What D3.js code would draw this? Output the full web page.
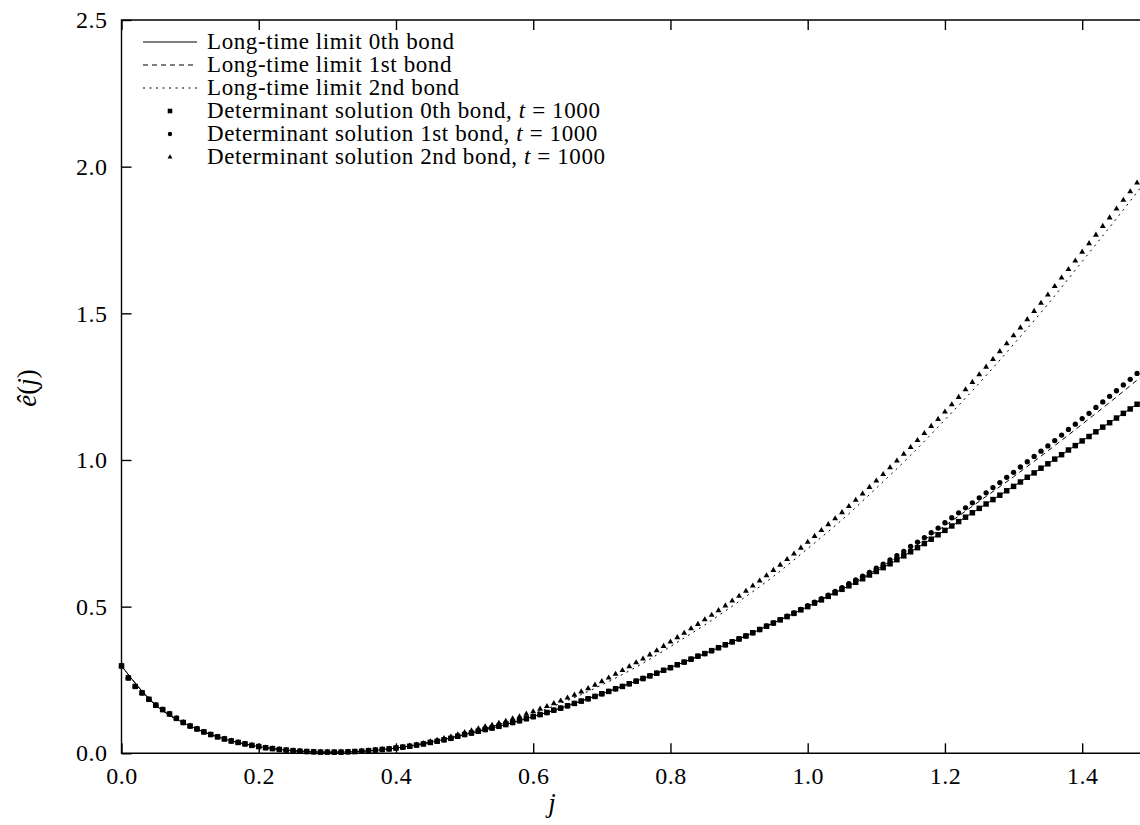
<!DOCTYPE html>
<html>
<head>
<meta charset="utf-8">
<script src="https://cdn.jsdelivr.net/npm/d3@7"></script>
<style>
  body { margin: 0; background: #fff; }
  svg text { font-family: "Liberation Serif", "DejaVu Serif", serif; fill: #000; }
</style>
</head>
<body>
<div id="chart"></div>
<script>
// j grid of the determinant solution (t = 1000)
const jPoints = [
  0.00,0.01,0.02,0.03,0.04,0.05,0.06,0.07,0.08,0.09,
  0.10,0.11,0.12,0.13,0.14,0.15,0.16,0.17,0.18,0.19,
  0.20,0.21,0.22,0.23,0.24,0.25,0.26,0.27,0.28,0.29,
  0.30,0.31,0.32,0.33,0.34,0.35,0.36,0.37,0.38,0.39,
  0.40,0.41,0.42,0.43,0.44,0.45,0.46,0.47,0.48,0.49,
  0.50,0.51,0.52,0.53,0.54,0.55,0.56,0.57,0.58,0.59,
  0.60,0.61,0.62,0.63,0.64,0.65,0.66,0.67,0.68,0.69,
  0.70,0.71,0.72,0.73,0.74,0.75,0.76,0.77,0.78,0.79,
  0.80,0.81,0.82,0.83,0.84,0.85,0.86,0.87,0.88,0.89,
  0.90,0.91,0.92,0.93,0.94,0.95,0.96,0.97,0.98,0.99,
  1.00,1.01,1.02,1.03,1.04,1.05,1.06,1.07,1.08,1.09,
  1.10,1.11,1.12,1.13,1.14,1.15,1.16,1.17,1.18,1.19,
  1.20,1.21,1.22,1.23,1.24,1.25,1.26,1.27,1.28,1.29,
  1.30,1.31,1.32,1.33,1.34,1.35,1.36,1.37,1.38,1.39,
  1.40,1.41,1.42,1.43,1.44,1.45,1.46,1.47,1.48
]

const det0 = [
  0.298,0.257,0.228,0.206,0.184,0.164,0.149,0.134,0.119,0.105,
  0.093,0.083,0.073,0.064,0.056,0.049,0.042,0.037,0.032,0.027,
  0.023,0.019,0.016,0.013,0.011,0.009,0.007,0.006,0.005,0.004,
  0.004,0.004,0.004,0.005,0.006,0.007,0.009,0.011,0.013,0.015,
  0.018,0.021,0.024,0.028,0.032,0.037,0.041,0.046,0.051,0.058,
  0.064,0.069,0.075,0.081,0.086,0.092,0.098,0.105,0.111,0.118,
  0.125,0.132,0.139,0.147,0.154,0.162,0.170,0.178,0.186,0.194,
  0.203,0.211,0.220,0.228,0.237,0.246,0.255,0.264,0.273,0.283,
  0.292,0.302,0.311,0.321,0.331,0.340,0.350,0.360,0.370,0.380,
  0.390,0.400,0.411,0.422,0.433,0.444,0.455,0.466,0.477,0.489,
  0.500,0.512,0.523,0.535,0.547,0.559,0.571,0.583,0.595,0.608,
  0.620,0.633,0.646,0.660,0.673,0.687,0.701,0.715,0.730,0.745,
  0.760,0.775,0.790,0.805,0.820,0.835,0.850,0.865,0.880,0.895,
  0.910,0.925,0.941,0.956,0.972,0.987,1.003,1.018,1.034,1.049,
  1.065,1.080,1.096,1.112,1.127,1.143,1.159,1.174,1.190
]

const det1 = [
  0.298,0.257,0.228,0.206,0.184,0.164,0.149,0.134,0.119,0.105,
  0.093,0.083,0.073,0.064,0.056,0.049,0.042,0.037,0.032,0.027,
  0.023,0.019,0.016,0.013,0.011,0.009,0.007,0.006,0.005,0.004,
  0.004,0.004,0.004,0.005,0.006,0.007,0.009,0.011,0.013,0.015,
  0.018,0.021,0.024,0.028,0.032,0.037,0.041,0.046,0.051,0.058,
  0.064,0.069,0.075,0.081,0.086,0.092,0.098,0.105,0.111,0.118,
  0.125,0.132,0.139,0.147,0.154,0.162,0.170,0.178,0.186,0.194,
  0.203,0.211,0.220,0.228,0.237,0.246,0.255,0.264,0.273,0.283,
  0.292,0.302,0.311,0.321,0.331,0.340,0.350,0.360,0.370,0.380,
  0.390,0.400,0.411,0.422,0.434,0.445,0.456,0.468,0.479,0.491,
  0.503,0.515,0.527,0.539,0.552,0.565,0.578,0.591,0.604,0.617,
  0.631,0.645,0.659,0.674,0.688,0.705,0.720,0.735,0.752,0.768,
  0.786,0.803,0.820,0.837,0.854,0.871,0.888,0.906,0.923,0.941,
  0.958,0.976,0.994,1.012,1.030,1.048,1.066,1.085,1.104,1.122,
  1.141,1.159,1.179,1.198,1.217,1.236,1.256,1.275,1.295
]

const det2 = [
  0.298,0.257,0.228,0.206,0.184,0.164,0.149,0.134,0.119,0.105,
  0.093,0.083,0.073,0.064,0.056,0.049,0.042,0.037,0.032,0.027,
  0.023,0.019,0.016,0.013,0.011,0.009,0.007,0.006,0.005,0.004,
  0.004,0.004,0.004,0.005,0.006,0.007,0.009,0.011,0.013,0.015,
  0.018,0.021,0.025,0.029,0.034,0.040,0.045,0.051,0.056,0.064,
  0.071,0.077,0.084,0.091,0.096,0.103,0.110,0.118,0.125,0.134,
  0.142,0.151,0.160,0.170,0.179,0.189,0.199,0.210,0.221,0.233,
  0.245,0.257,0.270,0.283,0.296,0.309,0.322,0.336,0.350,0.365,
  0.380,0.395,0.410,0.425,0.440,0.456,0.471,0.487,0.503,0.520,
  0.536,0.553,0.571,0.588,0.606,0.624,0.642,0.661,0.680,0.700,
  0.720,0.740,0.760,0.780,0.800,0.821,0.842,0.863,0.885,0.907,
  0.929,0.951,0.974,0.997,1.020,1.043,1.067,1.091,1.115,1.139,
  1.164,1.189,1.214,1.240,1.265,1.291,1.317,1.343,1.370,1.397,
  1.424,1.451,1.479,1.507,1.535,1.563,1.592,1.621,1.650,1.679,
  1.709,1.738,1.767,1.797,1.826,1.856,1.886,1.915,1.945
]

// long-time limit curves
const jLine = [0.00,0.05,0.10,0.15,0.20,0.25,0.30,0.35,0.40,0.45,0.50,0.55,0.60,0.65,0.70,0.75,
  0.80,0.85,0.90,0.95,1.00,1.05,1.10,1.15,1.20,1.25,1.30,1.35,1.40,1.45,1.50]
const lim0 = [0.298,0.164,0.093,0.049,0.023,0.009,0.004,0.007,0.018,0.037,0.064,0.092,0.125,0.162,0.203,0.246,
  0.292,0.340,0.390,0.444,0.500,0.559,0.620,0.687,0.760,0.835,0.910,0.987,1.065,1.143,1.222]
const lim1 = [0.298,0.164,0.093,0.049,0.023,0.009,0.004,0.007,0.018,0.037,0.064,0.092,0.125,0.162,0.203,0.246,
  0.292,0.340,0.390,0.444,0.501,0.562,0.626,0.697,0.776,0.859,0.943,1.031,1.122,1.215,1.311]
const lim2 = [0.298,0.164,0.093,0.049,0.023,0.009,0.004,0.007,0.018,0.038,0.067,0.098,0.135,0.180,0.233,0.294,
  0.364,0.438,0.518,0.603,0.698,0.796,0.904,1.016,1.137,1.262,1.394,1.531,1.677,1.823,1.974]

const xTicks = [0.0, 0.2, 0.4, 0.6, 0.8, 1.0, 1.2, 1.4]
const yTicks = [0.0, 0.5, 1.0, 1.5, 2.0, 2.5]

const legendLabels = [
  "Long-time limit 0th bond",
  "Long-time limit 1st bond",
  "Long-time limit 2nd bond",
  "Determinant solution 0th bond, ",
  "Determinant solution 1st bond, ",
  "Determinant solution 2nd bond, "
]

const width = 1140, height = 825
const plot = { left: 121.5, right: 1140.5, top: 20, bottom: 753.3 }

const svg = d3.select("#chart")
  .append("svg")
  .attr("width", width)
  .attr("height", height)

const x = d3.scaleLinear().domain([0, 1.485]).range([plot.left, plot.right])
const y = d3.scaleLinear().domain([0, 2.5]).range([plot.bottom, plot.top])

const fmt = d3.format(".1f")

// axes, ticks pointing inward
svg.append("g")
  .attr("transform", `translate(0,${plot.bottom})`)
  .call(d3.axisBottom(x).tickValues(xTicks).tickFormat(fmt).tickSizeInner(-10).tickSizeOuter(0).tickPadding(14))
svg.append("g")
  .attr("transform", `translate(0,${plot.top})`)
  .call(d3.axisTop(x).tickValues(xTicks).tickFormat("").tickSizeInner(-10).tickSizeOuter(0))
svg.append("g")
  .attr("transform", `translate(${plot.left},0)`)
  .call(d3.axisLeft(y).tickValues(yTicks).tickFormat(fmt).tickSizeInner(-10).tickSizeOuter(0).tickPadding(14))

svg.selectAll(".domain").remove()
svg.selectAll(".tick line").attr("stroke", "#000").attr("stroke-width", 1.4)
svg.selectAll(".tick text").style("font-size", "24px").style("letter-spacing", "0.5px").attr("font-family", null)

// frame (right side runs off the picture)
svg.append("path")
  .attr("d", `M${plot.right},${plot.top}H${plot.left}V${plot.bottom}H${plot.right}`)
  .attr("fill", "none")
  .attr("stroke", "#000")
  .attr("stroke-width", 1.4)

// axis labels
svg.append("text")
  .attr("x", 552).attr("y", 812)
  .attr("text-anchor", "middle")
  .style("font-size", "27px")
  .style("font-style", "italic")
  .text("j")

const yl = svg.append("text")
  .attr("transform", "translate(36,388) rotate(-90)")
  .attr("text-anchor", "middle")
  .style("font-size", "27px")
yl.append("tspan").style("font-style", "italic").text("ê")
yl.append("tspan").text("(")
yl.append("tspan").style("font-style", "italic").text("j")
yl.append("tspan").text(")")

// lines
const dashes = [null, "5,4", "2,4.5"]
const limits = [lim0, lim1, lim2]
const lineGen = d3.line()
  .x(d => x(d[0]))
  .y(d => y(d[1]))
  .curve(d3.curveMonotoneX)

limits.forEach((vals, i) => {
  svg.append("path")
    .datum(jLine.map((j, k) => [j, vals[k]]))
    .attr("d", lineGen)
    .attr("fill", "none")
    .attr("stroke", "#000")
    .attr("stroke-width", 1)
    .attr("stroke-dasharray", dashes[i])
})

// markers
const symbols = [d3.symbolSquare, d3.symbolCircle, d3.symbolTriangle]
const symSizes = [30, 22, 15]
const dets = [det2, det1, det0]
const detSym = [2, 1, 0]

dets.forEach((vals, i) => {
  const s = detSym[i]
  svg.append("g")
    .selectAll("path")
    .data(jPoints.map((j, k) => [j, vals[k]]))
    .join("path")
    .attr("transform", d => `translate(${x(d[0])},${y(d[1])})`)
    .attr("d", d3.symbol().type(symbols[s]).size(symSizes[s]))
    .attr("fill", "#000")
})

// legend
const legend = svg.append("g")
legendLabels.forEach((label, i) => {
  const cy = 42 + i * 23
  if (i < 3) {
    legend.append("line")
      .attr("x1", 143).attr("x2", 197)
      .attr("y1", cy).attr("y2", cy)
      .attr("stroke", "#000")
      .attr("stroke-width", 1.2)
      .attr("stroke-dasharray", dashes[i])
  } else {
    legend.append("path")
      .attr("transform", `translate(170,${cy})`)
      .attr("d", d3.symbol().type(symbols[i - 3]).size(symSizes[i - 3] * 0.7))
      .attr("fill", "#000")
  }
  const t = legend.append("text")
    .attr("x", 207)
    .attr("y", cy + 7)
    .style("font-size", "23px")
    .style("letter-spacing", "0.6px")
  t.append("tspan").text(label)
  if (i >= 3) {
    t.append("tspan").style("font-style", "italic").text("t")
    t.append("tspan").text(" = 1000")
  }
})
</script>
</body>
</html>
